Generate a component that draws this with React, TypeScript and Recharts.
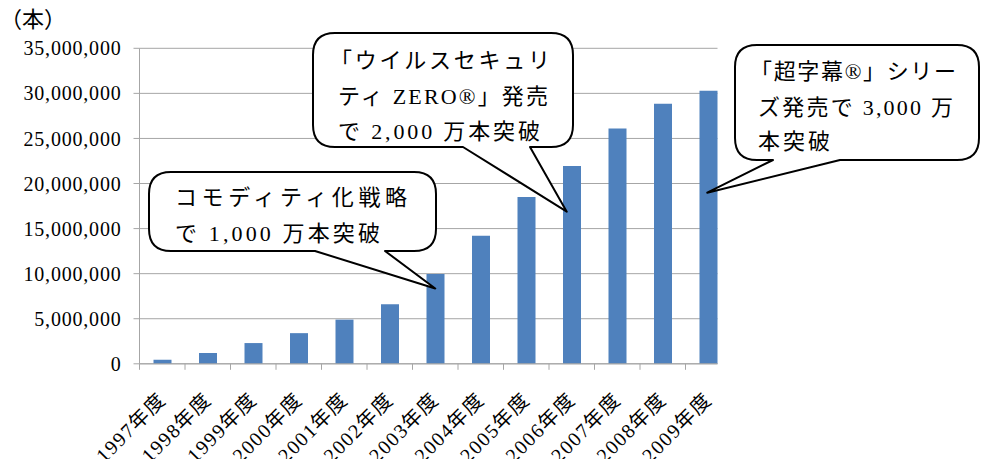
import React from 'react';
import { BarChart, Bar, XAxis, YAxis, CartesianGrid, ReferenceDot } from 'recharts';

// ---- data ----
const years = [
  '1997年度', '1998年度', '1999年度', '2000年度', '2001年度', '2002年度', '2003年度',
  '2004年度', '2005年度', '2006年度', '2007年度', '2008年度', '2009年度',
];
const units = [
  450000, 1200000, 2300000, 3400000, 4900000, 6600000, 9950000,
  14200000, 18500000, 21950000, 26100000, 28850000, 30300000,
];
const yTicks = [0, 5000000, 10000000, 15000000, 20000000, 25000000, 30000000, 35000000];
const yUnitLabel = '（本）';

const calloutYears = ['2003年度', '2006年度', '2009年度'];
const calloutTipValues = [8360000, 16880000, 18980000];
const calloutLines = [
  ['コモディティ化戦略', 'で 1,000 万本突破'],
  ['「ウイルスセキュリ', 'ティ ZERO®」発売', 'で 2,000 万本突破'],
  ['「超字幕®」シリー', 'ズ発売で 3,000 万', '本突破'],
];

// ---- layout / style ----
const W = 982;
const H = 459;
const PLOT_LEFT = 139.5;
const PLOT_TOP = 48.3;
const PLOT_BOTTOM = 363.8;
const PLOT_RIGHT = 717.5;
const BAND_END = 731;
const BAND = (BAND_END - PLOT_LEFT) / years.length;
const XAXIS_H = 60;
const GRID = '#a6a6a6';
const BAR = '#4F81BD';
const FONT = "Times New Roman, Liberation Serif, DejaVu Serif, Noto Sans CJK JP, serif";

// callout geometry: absolute page coords of body + wedge base + tip x offset
const calloutGeom = [
  { tipDx: 0, left: 149, top: 172, right: 436, bottom: 251, wl: 315, wr: 385, tx: 175, ty: [197, 233], tl: [232, 205], fs: 22 },
  { tipDx: -5, left: 313, top: 33, right: 573, bottom: 147, wl: 463, wr: 530, tx: 338, ty: [60, 96, 131], tl: [212, 210, 202], fs: 22 },
  { tipDx: -1, left: 735, top: 45, right: 979, bottom: 160, wl: 773, wr: 840, tx: 758, ty: [71, 107, 141], tl: [198, 195, 72], fs: 22 },
];

const calloutPath = (g: any, tipX: number, tipY: number) => {
  const r = 22;
  const { left, top, right, bottom, wl, wr } = g;
  return [
    `M ${left + r} ${top}`,
    `L ${right - r} ${top}`,
    `Q ${right} ${top} ${right} ${top + r}`,
    `L ${right} ${bottom - r}`,
    `Q ${right} ${bottom} ${right - r} ${bottom}`,
    `L ${wr} ${bottom}`,
    `L ${tipX} ${tipY}`,
    `L ${wl} ${bottom}`,
    `L ${left + r} ${bottom}`,
    `Q ${left} ${bottom} ${left} ${bottom - r}`,
    `L ${left} ${top + r}`,
    `Q ${left} ${top} ${left + r} ${top}`,
    'Z',
  ].join(' ');
};

const makeCallout = (idx: number) => (props: any) => {
  const { cx, cy } = props;
  if (cx == null || cy == null) return <g />;
  const g = calloutGeom[idx];
  const tipX = cx + g.tipDx;
  const lines = calloutLines[idx];
  return (
    <g>
      <path d={calloutPath(g, tipX, cy)} fill="#fff" stroke="#000" strokeWidth={2} strokeLinejoin="round" />
      {lines.map((ln, i) => (
        <text
          key={i}
          x={ln.startsWith('「') ? g.tx - 8 : g.tx}
          y={g.ty[i] + 8}
          fill="#000"
          textLength={g.tl[i] + (ln.startsWith('「') ? 8 : 0)}
          lengthAdjust="spacing"
          style={{ fontSize: g.fs, fontFamily: FONT }}
        >
          {ln}
        </text>
      ))}
    </g>
  );
};

const XTick = (props: any) => {
  const { x, y, payload } = props;
  const bx = x - BAND / 2;
  return (
    <g>
      <line x1={bx} y1={y - 6} x2={bx} y2={y} stroke={GRID} strokeWidth={1} />
      <text
        transform={`translate(${x + 5},${y + 31}) rotate(-45)`}
        textAnchor="end"
        fill="#000"
        style={{ fontSize: 20, fontFamily: FONT, letterSpacing: 1.5 }}
      >
        {payload.value}
      </text>
    </g>
  );
};

const data = years.map((y, i) => ({ year: y, units: units[i] }));

export default function App() {
  return (
    <div style={{ position: 'absolute', left: 0, top: 0, width: W, height: H, background: '#fff' }}>
      <div
        style={{
          position: 'absolute',
          left: 0,
          top: 6,
          fontSize: 22,
          fontFamily: FONT,
          lineHeight: '28px',
          color: '#000',
        }}
      >
        {yUnitLabel}
      </div>
      <BarChart
        width={W}
        height={H}
        data={data}
        style={{ fontFamily: FONT }}
        margin={{
          top: PLOT_TOP,
          right: W - PLOT_RIGHT,
          left: 0,
          bottom: H - PLOT_BOTTOM - XAXIS_H,
        }}
      >
        <CartesianGrid vertical={false} stroke={GRID} strokeWidth={1} />
        <XAxis
          dataKey="year"
          height={XAXIS_H}
          padding={{ left: 0, right: -(BAND_END - PLOT_RIGHT) }}
          axisLine={{ stroke: GRID }}
          tickLine={false}
          tickSize={6}
          tickMargin={0}
          interval={0}
          tick={<XTick />}
        />
        <YAxis
          width={PLOT_LEFT}
          domain={[0, 35000000]}
          ticks={yTicks}
          interval={0}
          axisLine={{ stroke: GRID }}
          tickLine={{ stroke: GRID }}
          tickSize={6}
          tickMargin={12}
          tick={{ fill: '#000', fontSize: 20, style: { fontFamily: FONT, letterSpacing: 0.8 } }}
          tickFormatter={(v: number) => v.toLocaleString('en-US')}
        />
        <Bar dataKey="units" fill={BAR} barSize={18} isAnimationActive={false} />
        {calloutYears.map((yr, i) => (
          <ReferenceDot
            key={yr}
            x={yr}
            y={calloutTipValues[i]}
            r={1}
            ifOverflow="visible"
            shape={makeCallout(i)}
          />
        ))}
      </BarChart>
    </div>
  );
}
